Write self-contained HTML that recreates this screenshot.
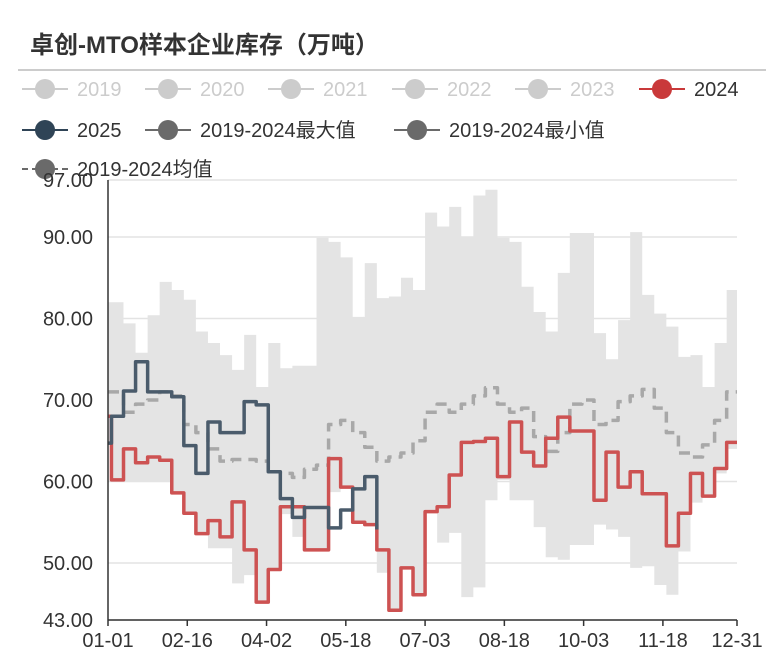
<!DOCTYPE html>
<html><head><meta charset="utf-8">
<style>
body{margin:0;background:#fff;font-family:"Liberation Sans","Noto Sans CJK SC",sans-serif;}
#wrap{position:relative;width:784px;height:665px;overflow:hidden;}
svg text{font-family:"Liberation Sans","Noto Sans CJK SC",sans-serif;}
</style></head>
<body>
<div id="wrap">
<svg id="chart" width="784" height="665">
<text x="30" y="53" font-size="24" font-weight="bold" fill="#333">卓创-MTO样本企业库存（万吨）</text>
<line x1="18" y1="70" x2="766" y2="70" stroke="#bbb" stroke-width="1.5"/>
<g id="legend"></g>
<g id="grid"></g>
<text x="392" y="333" font-size="19" fill="#c8c8c8" text-anchor="middle">紫金天风期货</text>
<g id="plot"></g>
<g id="axes"></g>
</svg>
</div>
<script>
const yTicks=[97,90,80,70,60,50,43];
const xTickLabels=["01-01","02-16","04-02","05-18","07-03","08-18","10-03","11-18","12-31"];
const xTickDays=[0,46,92,138,184,230,276,322,365];
const weekDays=[0].concat(Array.from({length:52},(_,i)=>2+7*i));
const series2024=[68,60.2,64,62.3,63,62.6,58.6,56.1,53.6,55.2,53.2,57.5,51.6,45.2,49.2,56.9,56.9,51.6,51.6,62.8,59.3,55,54.7,51.6,44.2,49.4,46.1,56.3,56.9,60.8,64.8,64.9,65.3,60.6,67.3,63.6,61.9,65.3,67.9,66.2,66.2,57.7,63.6,59.3,61.2,58.5,58.5,52.1,56.1,61,58.2,61.6,64.8];
const series2025=[64.7,68,71.1,74.7,71,71,70.4,64.4,61,67.3,66,66,69.8,69.4,61.2,57.9,55.6,56.8,56.8,54.3,56.5,59.1,60.6,54.1];
const seriesMean=[71,71,68.5,69.5,70,71,70.5,67,66,64,62.5,62.7,62.7,62.5,61.2,61,60.5,61.5,62,67,67.5,66,64.2,62.5,63,63.5,65,68.5,69.5,68.5,69.5,70.5,71.5,69.5,68.5,69,65.5,63.7,66,69.5,70,67,67.5,69.8,70.5,71.3,69,66,63.5,63,64.5,67.5,71];
const seriesMax=[82,82,79.4,75.8,80.4,84.5,83.5,82.3,78.4,77,75.5,73.7,78,71.6,77,73.9,74.2,74.2,89.9,89.4,87.5,80.2,86.8,82.5,82.7,85,83.5,93,91.3,93.7,90,95.1,95.8,89.9,89.4,83.9,80.8,78.4,85.6,90.5,90.5,78.2,75,79.8,90.6,82.9,80.6,79,75.3,75.5,71.6,77,83.5];
const seriesMin=[64.5,60,60,60,60,60,58.5,56,53.6,51.8,51.8,47.5,48.5,45.2,49.2,56,53.2,51.6,51.6,58.7,59.3,55,54.7,48.8,44.2,49.4,46.1,56.3,52.5,53.7,45.8,47,57.7,60.2,57.7,57.7,54.4,50.7,50.4,52.2,52.2,54.7,54.1,53.2,49.4,49.6,47.3,46.1,51.4,57.4,58.2,61,64];

const X0=108,X1=737,Y0=180,Y1=620,YMAX=97,YMIN=43;
const xs=d=>X0+d*(X1-X0)/365;
const ys=v=>Y0+(YMAX-v)*(Y1-Y0)/(YMAX-YMIN);
const NS="http://www.w3.org/2000/svg";
function mk(tag,attrs,parent){const e=document.createElementNS(NS,tag);for(const k in attrs)e.setAttribute(k,attrs[k]);parent.appendChild(e);return e;}
const grid=document.getElementById('grid'),plot=document.getElementById('plot'),axes=document.getElementById('axes'),legend=document.getElementById('legend');

yTicks.forEach(v=>{
  const g=mk('line',{x1:X0,x2:X1,y1:ys(v),y2:ys(v),stroke:'#e3e3e3','stroke-width':1.5},grid);
  
  
  const t=mk('text',{x:93,y:ys(v)+7,'font-size':20,fill:'#333','text-anchor':'end'},axes);
  t.textContent=v.toFixed(2);
  
  
});
function stepPts(vals){
  const p=[];
  for(let i=0;i<vals.length;i++){
    const x=xs(weekDays[i]);const xn=i<vals.length-1?xs(weekDays[i+1]):X1;
    p.push([x,ys(vals[i])],[xn,ys(vals[i])]);
  }
  return p;
}
const up=stepPts(seriesMax),lo=stepPts(seriesMin).reverse();
const band=mk('polygon',{points:up.concat(lo).map(p=>p.join(',')).join(' '),fill:'#e4e4e4'},plot);


function stepLine(vals,extend){
  const p=[];
  for(let i=0;i<vals.length;i++){
    const x=xs(weekDays[i]);
    if(i>0)p.push([x,ys(vals[i-1])]);
    p.push([x,ys(vals[i])]);
  }
  if(extend)p.push([X1,ys(vals[vals.length-1])]);
  return p.map(q=>q.join(',')).join(' ');
}
const mean=mk('polyline',{points:stepLine(seriesMean,true),fill:'none',stroke:'#a8a8a8','stroke-width':3.5,'stroke-dasharray':'11,7','stroke-linejoin':'round'},plot);


const l24=mk('polyline',{points:stepLine(series2024,true),fill:'none',stroke:'#cd5252','stroke-width':3.5,'stroke-linejoin':'round'},plot);


const l25=mk('polyline',{points:stepLine(series2025,false),fill:'none',stroke:'#4a5b6b','stroke-width':3.5,'stroke-linejoin':'round'},plot);



const ax=mk('line',{x1:X0,x2:X0,y1:Y0,y2:Y1,stroke:'#333','stroke-width':1.5},axes);


const bx=mk('line',{x1:X0,x2:X1,y1:Y1,y2:Y1,stroke:'#333','stroke-width':1.5},axes);


xTickDays.forEach((d,i)=>{
  const tk=mk('line',{x1:xs(d),x2:xs(d),y1:Y1,y2:Y1+6,stroke:'#333','stroke-width':1.5},axes);
  
  
  const t=mk('text',{x:xs(d),y:647,'font-size':20,fill:'#333','text-anchor':'middle'},axes);
  t.textContent=xTickLabels[i];
  
  
});

const legendItems=[
 ['2019',22,89,'#ccc','#ccc',false],['2020',145,89,'#ccc','#ccc',false],['2021',268,89,'#ccc','#ccc',false],
 ['2022',392,89,'#ccc','#ccc',false],['2023',515,89,'#ccc','#ccc',false],['2024',639,89,'#c9393a','#333',false],
 ['2025',22,130,'#2f4456','#333',false],['2019-2024最大值',145,130,'#6a6a6a','#333',false],['2019-2024最小值',394,130,'#6a6a6a','#333',false],
 ['2019-2024均值',22,169,'#6a6a6a','#333',true]];
legendItems.forEach(it=>{
  const g=mk('g',{},legend);
  
  
  mk('line',{x1:it[1],x2:it[1]+46,y1:it[2],y2:it[2],stroke:it[3],'stroke-width':2,'stroke-dasharray':it[5]?'6,4':'none'},g);
  mk('circle',{cx:it[1]+23,cy:it[2],r:10,fill:it[3]},g);
  const t=mk('text',{x:it[1]+55,y:it[2]+7,'font-size':20,fill:it[4]},g);
  t.textContent=it[0];
});
</script>
</body></html>
